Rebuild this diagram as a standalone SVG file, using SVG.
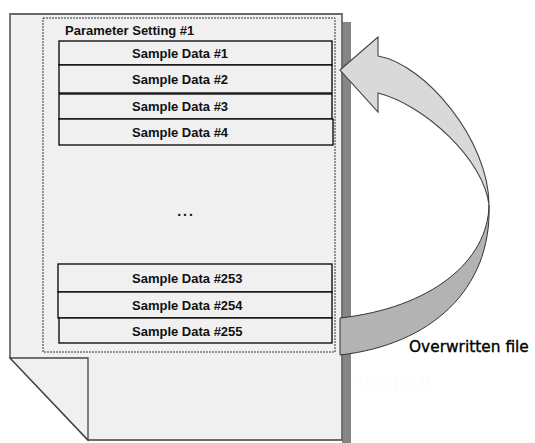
<svg xmlns="http://www.w3.org/2000/svg" width="535" height="443" viewBox="0 0 535 443">
<style>
.box{fill:#f0f0f0;stroke:#000;stroke-width:1.3}
.lbl{font-family:"Liberation Sans",Arial,sans-serif;font-weight:bold;font-size:13px;fill:#111}
</style>
<rect width="535" height="443" fill="#fff"/>
<g id="page">
<rect x="342" y="22" width="9" height="421" fill="#858585"/>
<path d="M10,14 H342 V440 H88 L10,358 Z" fill="#f0f0f0" stroke="#6a6a6a" stroke-width="1.8"/>
<path d="M10,358 H88 V440 Z" fill="#f0f0f0" stroke="#444" stroke-width="1.3"/>
</g>
<g id="param">
<rect x="43" y="18" width="292" height="334" fill="none" stroke="#333" stroke-width="1" stroke-dasharray="2,1"/>
<text x="65" y="35" font-family="Liberation Sans,Arial,sans-serif" font-weight="bold" font-size="13" fill="#111">Parameter Setting #1</text>
</g>
<g id="s1"><rect class="box" x="59" y="41" width="273" height="24"/><text class="lbl" x="132" y="58">Sample Data #1</text></g>
<g id="s2"><rect class="box" x="59" y="65" width="273" height="28"/><text class="lbl" x="132" y="84">Sample Data #2</text></g>
<g id="s3"><rect class="box" x="59" y="94" width="273" height="25"/><text class="lbl" x="132" y="111">Sample Data #3</text></g>
<g id="s4"><rect class="box" x="59" y="119" width="274" height="26"/><text class="lbl" x="132" y="137">Sample Data #4</text></g>
<g id="dots"><text x="186" y="216" font-family="Liberation Sans,Arial,sans-serif" font-weight="bold" font-size="14" fill="#111" text-anchor="middle" letter-spacing="2">...</text></g>
<g id="s253"><rect class="box" x="58" y="264" width="274" height="28"/><text class="lbl" x="132" y="283">Sample Data #253</text></g>
<g id="s254"><rect class="box" x="58" y="292" width="274" height="26"/><text class="lbl" x="132" y="310">Sample Data #254</text></g>
<g id="s255"><rect class="box" x="59" y="318" width="273" height="25"/><text class="lbl" x="132" y="336">Sample Data #255</text></g>
<g id="connectors">
<path d="M489,205 C492,290 430,345 340,355 L340,318 C430,308 488,262 489,205 Z" fill="#b3b3b3" stroke="#333" stroke-width="1"/>
<path d="M340,70 L378,37 L378,56 C425,64 489,140 489,205 C484,160 425,105 378,93 L378,112 Z" fill="#d9d9d9" stroke="#444" stroke-width="1.1" stroke-linejoin="miter"/>
</g>
<text x="409" y="352" font-family="DejaVu Sans,sans-serif" font-size="15.4" fill="#000" stroke="#000" stroke-width="0.35">Overwritten file</text>
<text x="358" y="389" font-family="Liberation Sans,'Noto Sans CJK KR',sans-serif" font-size="15" fill="#fbfbfb">데이터 갱신</text>
</svg>
